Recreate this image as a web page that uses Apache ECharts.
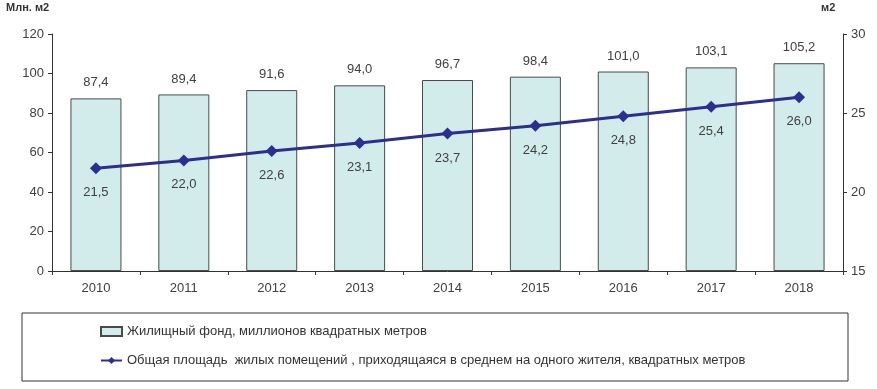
<!DOCTYPE html>
<html>
<head>
<meta charset="utf-8">
<script src="https://cdn.jsdelivr.net/npm/echarts@6/dist/echarts.min.js"></script>
<style>
  html, body { margin: 0; padding: 0; background: #fff; }
  #chart { width: 877px; height: 389px; }
</style>
</head>
<body>
<div id="chart"></div>
<script>
// годы
const years = ["2010", "2011", "2012", "2013", "2014", "2015", "2016", "2017", "2018"];
// жилищный фонд, млн м2
const fund = [87.4, 89.4, 91.6, 94.0, 96.7, 98.4, 101.0, 103.1, 105.2];
// площадь на одного жителя, м2
const perCapita = [21.5, 22.0, 22.6, 23.1, 23.7, 24.2, 24.8, 25.4, 26.0];

const fundName = "Жилищный фонд, миллионов квадратных метров";
const perCapitaName = "Общая площадь  жилых помещений , приходящаяся в среднем на одного жителя, квадратных метров";

const fmt = v => v.toFixed(1).replace(".", ",");
const textColor = "#404040";
const font = "Liberation Sans";

const chart = echarts.init(document.getElementById("chart"));
chart.setOption({
  animation: false,
  textStyle: { fontFamily: font, color: textColor },
  grid: { left: 52, right: 34, top: 34, bottom: 118 },
  graphic: [
    {
      type: "rect",
      shape: { x: 22, y: 313, width: 826, height: 68 },
      style: { fill: "#fff", stroke: "#333", lineWidth: 1 }
    },
    {
      type: "text", left: 6, top: 2,
      style: { text: "Млн. м2", font: "bold 11px " + font, fill: "#333" }
    },
    {
      type: "text", left: 821, top: 2,
      style: { text: "м2", font: "bold 11px " + font, fill: "#333" }
    }
  ],
  legend: {
    orient: "vertical",
    left: 95,
    top: 320,
    itemGap: 16,
    itemWidth: 21,
    itemHeight: 9,
    textStyle: { fontSize: 13, color: "#333", fontFamily: font },
    data: [
      { name: fundName, icon: "rect" },
      { name: perCapitaName }
    ]
  },
  xAxis: {
    type: "category",
    data: years,
    axisLine: { lineStyle: { color: "#333" } },
    axisTick: { show: true, length: 4, lineStyle: { color: "#333" } },
    axisLabel: { color: textColor, fontSize: 13, margin: 11 }
  },
  yAxis: [
    {
      type: "value",
      min: 0, max: 120, interval: 20,
      splitLine: { show: false },
      axisLine: { show: true, lineStyle: { color: "#333" } },
      axisTick: { show: true, length: 4, lineStyle: { color: "#333" } },
      axisLabel: { color: textColor, fontSize: 13, margin: 8 }
    },
    {
      type: "value",
      min: 15, max: 30, interval: 5,
      splitLine: { show: false },
      axisLine: { show: true, lineStyle: { color: "#333" } },
      axisTick: { show: true, length: 4, lineStyle: { color: "#333" } },
      axisLabel: { color: textColor, fontSize: 13, margin: 8 }
    }
  ],
  series: [
    {
      name: fundName,
      type: "bar",
      data: fund,
      barWidth: 51,
      itemStyle: { color: "#d2ecec", borderColor: "#4a4a4a", borderWidth: 1 },
      label: {
        show: true, position: "top", distance: 9,
        color: textColor, fontSize: 13,
        formatter: p => fmt(p.value)
      }
    },
    {
      name: perCapitaName,
      type: "line",
      yAxisIndex: 1,
      data: perCapita,
      symbol: "diamond",
      symbolSize: 12,
      lineStyle: { color: "#2b2f8f", width: 3 },
      itemStyle: { color: "#2b2f8f" },
      label: {
        show: true, position: "bottom", distance: 12,
        color: textColor, fontSize: 13,
        formatter: p => fmt(p.value)
      }
    }
  ]
});
</script>
</body>
</html>
